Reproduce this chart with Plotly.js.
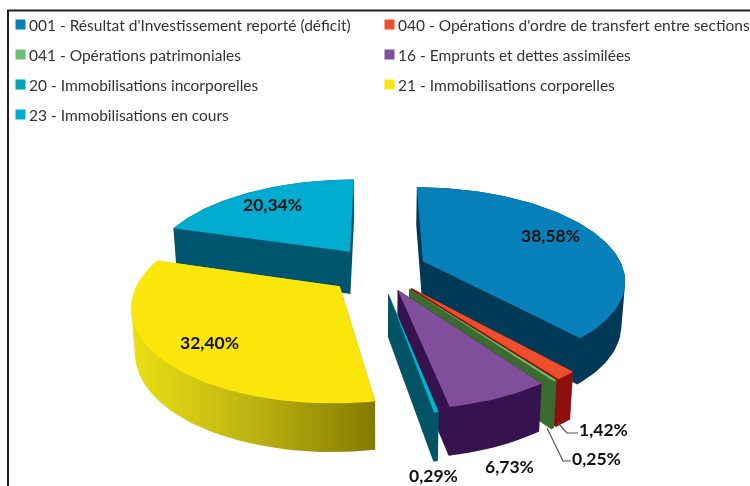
<!DOCTYPE html>
<html><head><meta charset="utf-8">
<script src="https://cdn.plot.ly/plotly-3.0.1.min.js"></script>
<style>html,body{margin:0;padding:0;background:#fff}#c{width:750px;height:486px;filter:blur(0.4px)}</style>
</head><body><div id="c"></div>
<script>
const categories = ["001 - Résultat d'Investissement reporté (déficit)","040 - Opérations d'ordre de transfert entre sections","041 - Opérations patrimoniales","16 - Emprunts et dettes assimilées","20 - Immobilisations incorporelles","21 - Immobilisations corporelles","23 - Immobilisations en cours"];
const values = [38.58,1.42,0.25,6.73,0.29,32.40,20.34];
const topColors = ["#0880BA","#EE4E2B","#6DB96D","#7F4F9C","#00B2CC","#FAE60A","#00ADD0"];
const wallColors = ["#003A57","#8F0E0E","#3B6B2E","#36124F","#005466","#B0A510","#00566E"];
const legendColors = ["#0780BA","#EE4E2B","#6DBE70","#7F4F9C","#00A5B5","#FAE60A","#00ADD0"];
const labelPos = [[550,235],[603,429],[596,458],[509,466],[433,475],[209,342],[272,204]];
const leaders = [null,[[558,423],[567,433],[578,433]],[[547,428],[563,461],[571,461]],null,null,null,null];
const sliceNudge = [[5,-2],[5,2],[5,2],[2,1],[2,3],[-5,3],[-3,-3]];
const sliceScale = [0.97,0.96,0.96,0.96,0.97,0.96,0.98];

// projection of the exploded pie
const cx=378, cy=270, rx=206, ry=93, k=0.19, ex=0.21;
const proj=(X,Y)=>[cx+rx*X/(1+k*Y), cy-ry*Y/(1+k*Y)];
function hull(pts){
  const p=pts.slice().sort((a,b)=>a[0]-b[0]||a[1]-b[1]);
  const cr=(o,a,b)=>(a[0]-o[0])*(b[1]-o[1])-(a[1]-o[1])*(b[0]-o[0]);
  const lo=[],up=[];
  for(const q of p){while(lo.length>1&&cr(lo[lo.length-2],lo[lo.length-1],q)<=0)lo.pop();lo.push(q);}
  for(const q of p.slice().reverse()){while(up.length>1&&cr(up[up.length-2],up[up.length-1],q)<=0)up.pop();up.push(q);}
  return lo.slice(0,-1).concat(up.slice(0,-1));
}
const total=values.reduce((a,b)=>a+b,0);
let acc=0; const slices=values.map((v,i)=>{
  const a0=acc/total*2*Math.PI; acc+=v; const a1=acc/total*2*Math.PI; const m=(a0+a1)/2;
  const ox=ex*Math.sin(m), oy=ex*Math.cos(m);
  const n=Math.max(3,Math.ceil((a1-a0)/0.03));
  const plane=[[ox,oy]];
  for(let j=0;j<=n;j++){const a=a0+(a1-a0)*j/n;plane.push([ox+Math.sin(a),oy+Math.cos(a)]);}
  const apex=proj(ox,oy), sc=sliceScale[i];
  const top=plane.map(q=>{const t=proj(q[0],q[1]);
    return [apex[0]+(t[0]-apex[0])*sc+sliceNudge[i][0],apex[1]+(t[1]-apex[1])*sc+sliceNudge[i][1]];});
  const bot=plane.map((q,j)=>{const t=top[j];return [cx+(t[0]-cx)*0.985,t[1]+43-5*q[1]];});
  return {i,top,wall:hull(top.concat(bot))};
});
const order=[6,0,1,2,3,4,5];
const traces=[];
const poly=(pts,color,extra)=>{const c=pts.concat([pts[0]]);
  return Object.assign({type:'scatter',mode:'lines',x:c.map(q=>q[0]),y:c.map(q=>q[1]),fill:'toself',fillcolor:color,line:{width:0,color:color},hoverinfo:'skip',showlegend:false},extra||{});};
order.forEach(i=>{
  const s=slices[i];
  const extra=i===5?{fillgradient:{type:'horizontal',colorscale:[[0,'#EBDF12'],[0.5,'#BDB212'],[1,'#867A00']]}}:{};
  traces.push(poly(s.wall,wallColors[i],extra));
  traces.push(poly(s.top,topColors[i]));
});
// leader lines
leaders.forEach(l=>{if(l)traces.push({type:'scatter',mode:'lines',x:l.map(q=>q[0]),y:l.map(q=>q[1]),line:{width:1.2,color:'#555'},hoverinfo:'skip',showlegend:false});});
// legend swatches
const legRow=i=>24.5+30*Math.floor(i/2), legCol=i=>i%2?389.5:20.5;
const legOrder=[0,1,2,3,4,5,6];
traces.push({type:'scatter',mode:'markers',x:legOrder.map(legCol),y:legOrder.map(legRow),marker:{symbol:'square',size:10,color:legendColors,line:{width:0}},hoverinfo:'skip',showlegend:false});
// frame
traces.push({type:'scatter',mode:'lines',x:[8,8,750],y:[486,10.5,10.5],line:{width:2,color:'#231F20'},hoverinfo:'skip',showlegend:false});

const ann=[];
categories.forEach((c,i)=>ann.push({x:legCol(i)+6.5,y:legRow(i),xref:'x',yref:'y',xanchor:'left',yanchor:'middle',showarrow:false,text:c,font:{family:'Lato',size:15.5,color:'#333'}}));
values.forEach((v,i)=>ann.push({x:labelPos[i][0],y:labelPos[i][1],xref:'x',yref:'y',xanchor:'center',yanchor:'middle',showarrow:false,text:'<b>'+v.toFixed(2).replace('.',',')+'%</b>',font:{family:'Lato',size:17.5,color:'#111'}}));

Plotly.newPlot('c',traces,{
  width:750,height:486,margin:{l:0,r:0,t:0,b:0},paper_bgcolor:'#fff',plot_bgcolor:'#fff',showlegend:false,
  xaxis:{range:[0,750],visible:false,fixedrange:true},
  yaxis:{range:[486,0],visible:false,fixedrange:true},
  annotations:ann
},{displayModeBar:false,staticPlot:true});
</script></body></html>
